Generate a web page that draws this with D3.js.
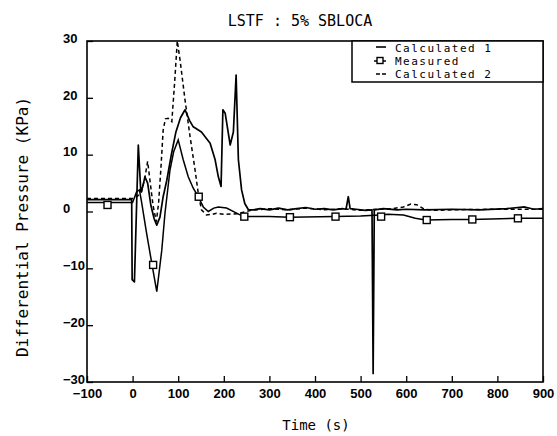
<!DOCTYPE html>
<html>
<head>
<meta charset="utf-8">
<script src="https://cdn.jsdelivr.net/npm/d3@7"></script>
<style>
body { margin: 0; background: #fff; }
</style>
</head>
<body>
<div id="chart"></div>
<script>
const titleText = "LSTF : 5% SBLOCA";
const xTicks = [-100, 0, 100, 200, 300, 400, 500, 600, 700, 800, 900];
const yTicks = [-30, -20, -10, 0, 10, 20, 30];
const legendLabels = ["Calculated 1", "Measured", "Calculated 2"];

// Calculated 1 (solid)
const calc1Time = [-100, -2, -1, 4, 12.5, 18, 22, 27, 33, 40, 47, 53, 60, 67, 75, 85, 95, 105, 115, 125, 133, 151, 170, 181, 188, 194, 198, 203, 214, 221, 227, 232, 239, 246, 254, 265, 280, 300, 320, 340, 360, 380, 400, 420, 440, 460, 468, 473, 477, 490, 510, 525, 527.5, 530, 550, 580, 600, 640, 700, 760, 820, 860, 880, 900];
const calc1Value = [2.1, 2.1, -12.0, -12.4, 11.7, 3.5, 4.3, 6.1, 5.0, 1.1, -1.2, -2.4, -1.0, 2.6, 5.5, 10, 14, 16.5, 17.9, 16, 14.9, 14.0, 12.0, 9.1, 6.1, 4.4, 17.9, 17.3, 11.7, 14.0, 24.0, 9.1, 3.8, 1.4, 0.3, 0.3, 0.5, 0.3, 0.6, 0.3, 0.5, 0.7, 0.4, 0.5, 0.3, 0.5, 0.4, 2.6, 0.5, 0.4, 0.2, 0.3, -28.5, 0.3, 0.5, 0.3, 0.4, 0.3, 0.4, 0.3, 0.5, 0.8, 0.4, 0.5];

// Measured (solid with squares)
const measTime = [-100, 0, 9, 15, 20, 30, 42, 53, 64, 71, 82, 90, 100, 111, 122, 133, 144, 155, 166, 178, 188, 206, 228, 243, 300, 344, 444, 500, 542, 560, 594, 620, 643, 700, 744, 844, 900];
const measValue = [1.6, 1.6, 3.5, 3.8, 1.5, -3.5, -9.1, -14.1, -6.8, -0.3, 7.3, 10.5, 12.6, 9.1, 6.1, 4.1, 2.6, 0.8, 0.0, 0.6, 0.8, 0.6, -0.3, -0.9, -0.9, -1.0, -0.9, -0.8, -0.6, -0.5, -0.6, -1.2, -1.5, -1.4, -1.4, -1.2, -1.2];
const markTime = [-55, 45, 145, 245, 345, 445, 545, 645, 745, 845];
const markValue = [1.15, -9.4, 2.6, -0.9, -1.0, -0.9, -0.9, -1.5, -1.4, -1.2];

// Calculated 2 (dashed)
const calc2Time = [-100, 0, 5, 12, 20, 27, 33, 38, 45, 52, 57, 62, 67, 72, 78, 86, 92, 98, 104, 115, 126, 137, 144, 151, 162, 175, 184, 200, 230, 260, 300, 340, 380, 420, 460, 500, 540, 570, 594, 610, 623, 640, 660, 700, 800, 900];
const calc2Value = [2.3, 2.3, 2.4, 2.8, 3.5, 6, 8.8, 5.5, 1, -1.8, 1.5, 7.5, 14.3, 16.3, 16.4, 15.8, 22.5, 30, 26.7, 19.6, 13.2, 7.3, 3.2, 0.3, -0.6, -0.5, -0.3, -0.5, -0.4, 0.2, 0.5, 0.3, 0.6, 0.3, 0.5, 0.2, 0.4, 0.5, 0.8, 1.3, 1.2, 0.4, 0.2, 0.3, 0.4, 0.4];

const margin = { top: 41, right: 14, bottom: 54, left: 87 };
const width = 557 - margin.left - margin.right;
const height = 436 - margin.top - margin.bottom;

const svg = d3.select("#chart")
    .append("svg")
    .attr("width", 557)
    .attr("height", 436)
    .style("display", "block");

const g = svg.append("g")
    .attr("transform", `translate(${margin.left},${margin.top})`);

const x = d3.scaleLinear().domain([-100, 900]).range([0, width]);
const y = d3.scaleLinear().domain([-30, 30]).range([height, 0]);

g.append("clipPath").attr("id", "plot-clip")
    .append("rect").attr("width", width).attr("height", height);

// axes, ticks pointing inward
const xAxis = g.append("g")
    .attr("transform", `translate(0,${height})`)
    .call(d3.axisBottom(x).tickValues(xTicks).tickSizeInner(-6).tickSizeOuter(0).tickFormat(d3.format("d")));
xAxis.select(".domain").remove();
xAxis.selectAll("line").attr("stroke", "#000").attr("stroke-width", 1.3);
xAxis.selectAll("text")
    .attr("y", 7)
    .attr("dy", "0.71em")
    .attr("fill", "#000")
    .style("font-family", "'Liberation Sans', Arial, sans-serif")
    .style("font-size", "13px")
    .style("font-weight", "bold");

const yAxis = g.append("g")
    .call(d3.axisLeft(y).tickValues(yTicks).tickSizeInner(-6).tickSizeOuter(0).tickFormat(d3.format("d")));
yAxis.select(".domain").remove();
yAxis.selectAll("line").attr("stroke", "#000").attr("stroke-width", 1.3);
yAxis.selectAll("text")
    .attr("x", -24)
    .attr("dy", "0.1em")
    .attr("text-anchor", "start")
    .attr("fill", "#000")
    .style("font-family", "'Liberation Sans', Arial, sans-serif")
    .style("font-size", "13px")
    .style("font-weight", "bold");

// frame
g.append("rect")
    .attr("width", width)
    .attr("height", height)
    .attr("fill", "none")
    .attr("stroke", "#000")
    .attr("stroke-width", 1.6);

const line = d3.line()
    .x(d => x(d[0]))
    .y(d => y(d[1]));

const plot = g.append("g").attr("clip-path", "url(#plot-clip)");

plot.append("path")
    .datum(d3.zip(calc2Time, calc2Value))
    .attr("fill", "none")
    .attr("stroke", "#000")
    .attr("stroke-width", 1.5)
    .attr("stroke-dasharray", "4,3")
    .attr("d", line);

plot.append("path")
    .datum(d3.zip(measTime, measValue))
    .attr("fill", "none")
    .attr("stroke", "#000")
    .attr("stroke-width", 1.5)
    .attr("d", line);

plot.append("path")
    .datum(d3.zip(calc1Time, calc1Value))
    .attr("fill", "none")
    .attr("stroke", "#000")
    .attr("stroke-width", 1.7)
    .attr("stroke-linejoin", "round")
    .attr("d", line);

plot.selectAll(".mark")
    .data(d3.zip(markTime, markValue))
    .join("rect")
    .attr("class", "mark")
    .attr("x", d => x(d[0]) - 3.5)
    .attr("y", d => y(d[1]) - 3.5)
    .attr("width", 7)
    .attr("height", 7)
    .attr("fill", "#fff")
    .attr("stroke", "#000")
    .attr("stroke-width", 1.4);

// legend box in the top right corner
const lg = g.append("g").attr("transform", `translate(${265},0)`);
lg.append("rect")
    .attr("width", width - 265)
    .attr("height", 41)
    .attr("fill", "#fff")
    .attr("stroke", "#000")
    .attr("stroke-width", 1.5);

legendLabels.forEach((label, i) => {
    const row = lg.append("g").attr("transform", `translate(0,${11 + i * 13})`);
    if (i === 0) {
        row.append("line").attr("x1", 24).attr("x2", 34).attr("y1", -5).attr("y2", -5)
            .attr("stroke", "#000").attr("stroke-width", 1.6);
    } else if (i === 1) {
        row.append("line").attr("x1", 22).attr("x2", 34).attr("y1", -4).attr("y2", -4)
            .attr("stroke", "#000").attr("stroke-width", 1.5);
        row.append("rect").attr("x", 25).attr("y", -7.5).attr("width", 6).attr("height", 6)
            .attr("fill", "#fff").attr("stroke", "#000").attr("stroke-width", 1.4);
    } else {
        row.append("line").attr("x1", 24).attr("x2", 34).attr("y1", -4).attr("y2", -4)
            .attr("stroke", "#000").attr("stroke-width", 1.5).attr("stroke-dasharray", "4,2");
    }
    row.append("text")
        .attr("x", 43)
        .attr("y", 0)
        .style("font-family", "'DejaVu Sans Mono', monospace")
        .style("font-size", "11px")
        .style("letter-spacing", "1.5px")
        .text(label);
});

// titles
svg.append("text")
    .attr("x", 300)
    .attr("y", 26)
    .attr("text-anchor", "middle")
    .style("font-family", "'DejaVu Sans Mono', monospace")
    .style("font-size", "15px")
    .text(titleText);

svg.append("text")
    .attr("x", 316)
    .attr("y", 430)
    .attr("text-anchor", "middle")
    .style("font-family", "'DejaVu Sans Mono', monospace")
    .style("font-size", "14px")
    .text("Time (s)");

svg.append("text")
    .attr("transform", "translate(28,227) rotate(-90)")
    .attr("text-anchor", "middle")
    .style("font-family", "'DejaVu Sans Mono', monospace")
    .style("font-size", "16px")
    .text("Differential Pressure (KPa)");
</script>
</body>
</html>
